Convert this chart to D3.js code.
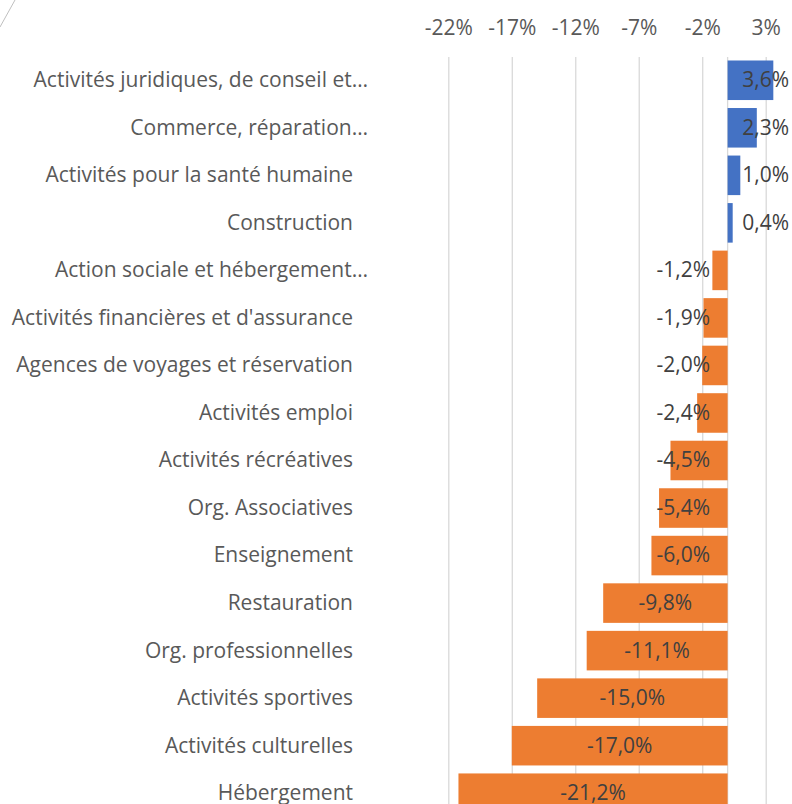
<!DOCTYPE html>
<html><head><meta charset="utf-8">
<script src="https://cdn.jsdelivr.net/npm/d3@7"></script>
<style>html,body{margin:0;padding:0;background:#fff;overflow:hidden}</style>
</head><body>
<svg id="chart" width="792" height="804"></svg>
<script>
const categories = [
  "Activités juridiques, de conseil et…",
  "Commerce, réparation…",
  "Activités pour la santé humaine",
  "Construction",
  "Action sociale et hébergement…",
  "Activités financières et d'assurance",
  "Agences de voyages et réservation",
  "Activités emploi",
  "Activités récréatives",
  "Org. Associatives",
  "Enseignement",
  "Restauration",
  "Org. professionnelles",
  "Activités sportives",
  "Activités culturelles",
  "Hébergement"
];
const values = [3.6, 2.3, 1.0, 0.4, -1.2, -1.9, -2.0, -2.4, -4.5, -5.4, -6.0, -9.8, -11.1, -15.0, -17.0, -21.2];
const tickValues = [-22, -17, -12, -7, -2, 3];

const W = 792, H = 804;
const FONT = "'Open Sans', 'Noto Sans', sans-serif";
const FS = "21px";
const svg = d3.select("#chart");
const locale = d3.formatLocale({decimal: ",", thousands: " ", grouping: [3], currency: ["", "€"], minus: "-"});
const fmt = v => locale.format(".1f")(v) + "%";

const x = d3.scaleLinear().domain([-22, 3]).range([448.3, 765.7]);
const y = d3.scaleBand().domain(categories).range([56.5, 56.5 + 16 * 47.53]).paddingInner(0.168).paddingOuter(0.084);

// decorative border fragment top-left
svg.append("line").attr("x1", 0).attr("y1", 27).attr("x2", 15).attr("y2", 0)
  .attr("stroke", "#bfbfbf").attr("stroke-width", 1);

// gridlines + top axis labels
const axis = d3.axisTop(x).tickValues(tickValues).tickSize(-(H - 57)).tickFormat(d => d + "%");
const gAxis = svg.append("g").attr("transform", "translate(0,57)").call(axis);
gAxis.select(".domain").remove();
gAxis.selectAll(".tick line").attr("stroke", "#d9d9d9").attr("stroke-width", 1.3);
gAxis.selectAll(".tick text").attr("y", -29).attr("dy", "0.35em")
  .attr("fill", "#595959").style("font-family", FONT).style("font-size", FS);

// zero axis line
svg.append("line").attr("x1", x(0)).attr("x2", x(0)).attr("y1", 57).attr("y2", H)
  .attr("stroke", "#d9d9d9").attr("stroke-width", 1.3);

const data = categories.map((c, i) => ({c, v: values[i]}));

// bars
svg.append("g").selectAll("rect").data(data).join("rect")
  .attr("x", d => x(Math.min(0, d.v)))
  .attr("width", d => Math.abs(x(d.v) - x(0)))
  .attr("y", d => y(d.c))
  .attr("height", y.bandwidth())
  .attr("fill", d => d.v >= 0 ? "#4472c4" : "#ed7d31");

// category labels
svg.append("g").selectAll("text").data(data).join("text")
  .attr("x", d => d.c.endsWith("…") ? 368 : 353)
  .attr("y", d => y(d.c) + y.bandwidth() / 2)
  .attr("dy", "0.33em")
  .attr("text-anchor", "end")
  .attr("fill", "#595959")
  .style("font-family", FONT).style("font-size", FS)
  .text(d => d.c);

// data labels
const lbl = svg.append("g").selectAll("text").data(data).join("text")
  .attr("y", d => y(d.c) + y.bandwidth() / 2)
  .attr("dy", "0.33em")
  .attr("fill", "#404040")
  .style("font-family", FONT).style("font-size", FS)
  .text(d => fmt(d.v));
lbl.each(function(d) {
  const t = d3.select(this);
  const w = this.getComputedTextLength();
  if (d.v >= 0) {
    t.attr("text-anchor", "end").attr("x", W - 3);
  } else {
    const cx = (x(d.v) + x(0)) / 2;
    const limit = x(0) - 17.5;
    if (cx + w / 2 > limit) t.attr("text-anchor", "end").attr("x", limit);
    else t.attr("text-anchor", "middle").attr("x", cx);
  }
});
</script>
</body></html>
